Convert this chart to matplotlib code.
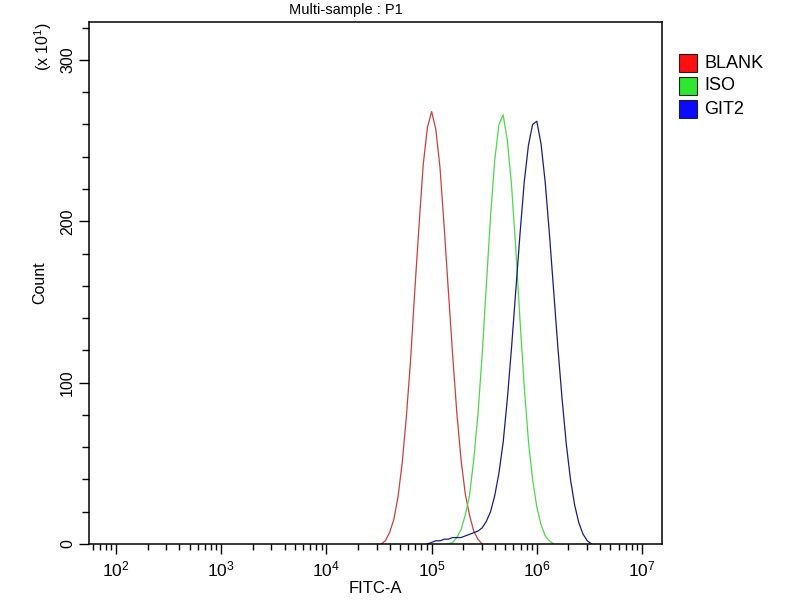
import numpy as np
import matplotlib
matplotlib.use("Agg")
import matplotlib.pyplot as plt
from matplotlib.ticker import LogLocator, NullFormatter, MultipleLocator
from matplotlib.patches import Rectangle

# canales del histograma (log10 de FITC-A), uno cada 0.04 decadas
LOG_CANAL = np.round(np.arange(4.48, 6.601, 0.04), 2)

# cuentas (x 10^1), una por canal
BLANK = [0, 0, 2, 7, 15, 29, 50, 79, 114, 157, 197, 235, 258, 268, 257, 233,
         196, 156, 117, 81, 52, 31, 18, 8, 3, 0, 0, 0, 0, 0, 0, 0,
         0, 0, 0, 0, 0, 0, 0, 0, 0, 0, 0, 0, 0, 0, 0, 0,
         0, 0, 0, 0, 0, 0]
ISO = [0, 0, 0, 0, 0, 0, 0, 0, 0, 0, 0, 0, 0, 0, 0, 0,
       0, 0, 1, 4, 9, 18, 30, 52, 80, 117, 160, 203, 238, 260, 266, 250,
       222, 183, 139, 98, 64, 40, 23, 12, 5, 2, 0, 0, 0, 0, 0, 0,
       0, 0, 0, 0, 0, 0]
GIT2 = [0, 0, 0, 0, 0, 0, 0, 0, 0, 0, 0, 0, 0, 1, 2, 2,
        3, 3, 4, 4, 4, 5, 6, 7, 8, 10, 14, 20, 30, 44, 63, 90,
        122, 157, 192, 224, 247, 260, 262, 248, 224, 192, 157, 122, 90, 62, 40, 24,
        13, 6, 2, 0, 0, 0]

NOMBRES = ["BLANK", "ISO", "GIT2"]
SERIES = [BLANK, ISO, GIT2]
COLOR_LINEA = ["#c8403c", "#4cd84c", "#1c1c78"]
COLOR_CAJA = ["#ff1010", "#2ee82e", "#0a0aff"]

plt.rcParams["font.family"] = ["Liberation Sans", "DejaVu Sans"]
plt.rcParams["mathtext.default"] = "regular"

fig = plt.figure(figsize=(8, 6), dpi=100)
ax = fig.add_axes([89/800, 56/600, 573/800, 522/600])

x = 10.0**LOG_CANAL
for cuentas, col in zip(SERIES, COLOR_LINEA):
    c = np.array(cuentas, dtype=float)
    nz = np.nonzero(c)[0]
    sel = slice(max(nz[0] - 1, 0), min(nz[-1] + 2, len(c)))
    ax.plot(x[sel], c[sel], color=col, lw=0.9)

ax.set_xscale("log")
ax.set_xlim(10**1.743, 10**7.19)
ax.set_ylim(0, 323.5)

ax.xaxis.set_major_locator(LogLocator(base=10, numticks=20))
ax.xaxis.set_minor_locator(LogLocator(base=10, subs=np.arange(2, 10), numticks=20))
ax.xaxis.set_minor_formatter(NullFormatter())
ax.yaxis.set_major_locator(MultipleLocator(100))
ax.yaxis.set_minor_locator(MultipleLocator(20))

ax.tick_params(axis="x", which="major", length=7, width=1, labelsize=12.5, pad=4)
ax.tick_params(axis="x", which="minor", length=4.5, width=1)
ax.tick_params(axis="y", which="major", length=7, width=1, labelsize=11.5, pad=3)
ax.tick_params(axis="y", which="minor", length=5, width=1)
for lab in ax.get_yticklabels():
    lab.set_rotation(90)
    lab.set_va("center")
for s in ax.spines.values():
    s.set_linewidth(1.1)

ax.set_xlabel("FITC-A", fontsize=12, labelpad=1)
fig.text(40/800, 1 - 283/600, "Count", rotation=90, ha="center", va="center", fontsize=11.5)
fig.text(43/800, 1 - 47/600, "(x 10$^1$)", rotation=90, ha="center", va="center", fontsize=11.5)
fig.text(346/800, 1 - 10/600, "Multi-sample : P1", ha="center", va="center", fontsize=10.5)

# leyenda a la derecha
for i, (nom, col) in enumerate(zip(NOMBRES, COLOR_CAJA)):
    yc = 1 - (63 + 23*i)/600
    fig.add_artist(Rectangle((679/800, yc - 9/600), 18/800, 18/600, transform=fig.transFigure,
                             facecolor=col, edgecolor="#202020", lw=0.8))
    fig.text(704/800, yc, nom, ha="left", va="center", fontsize=13)

fig.savefig("out.png", dpi=100)
